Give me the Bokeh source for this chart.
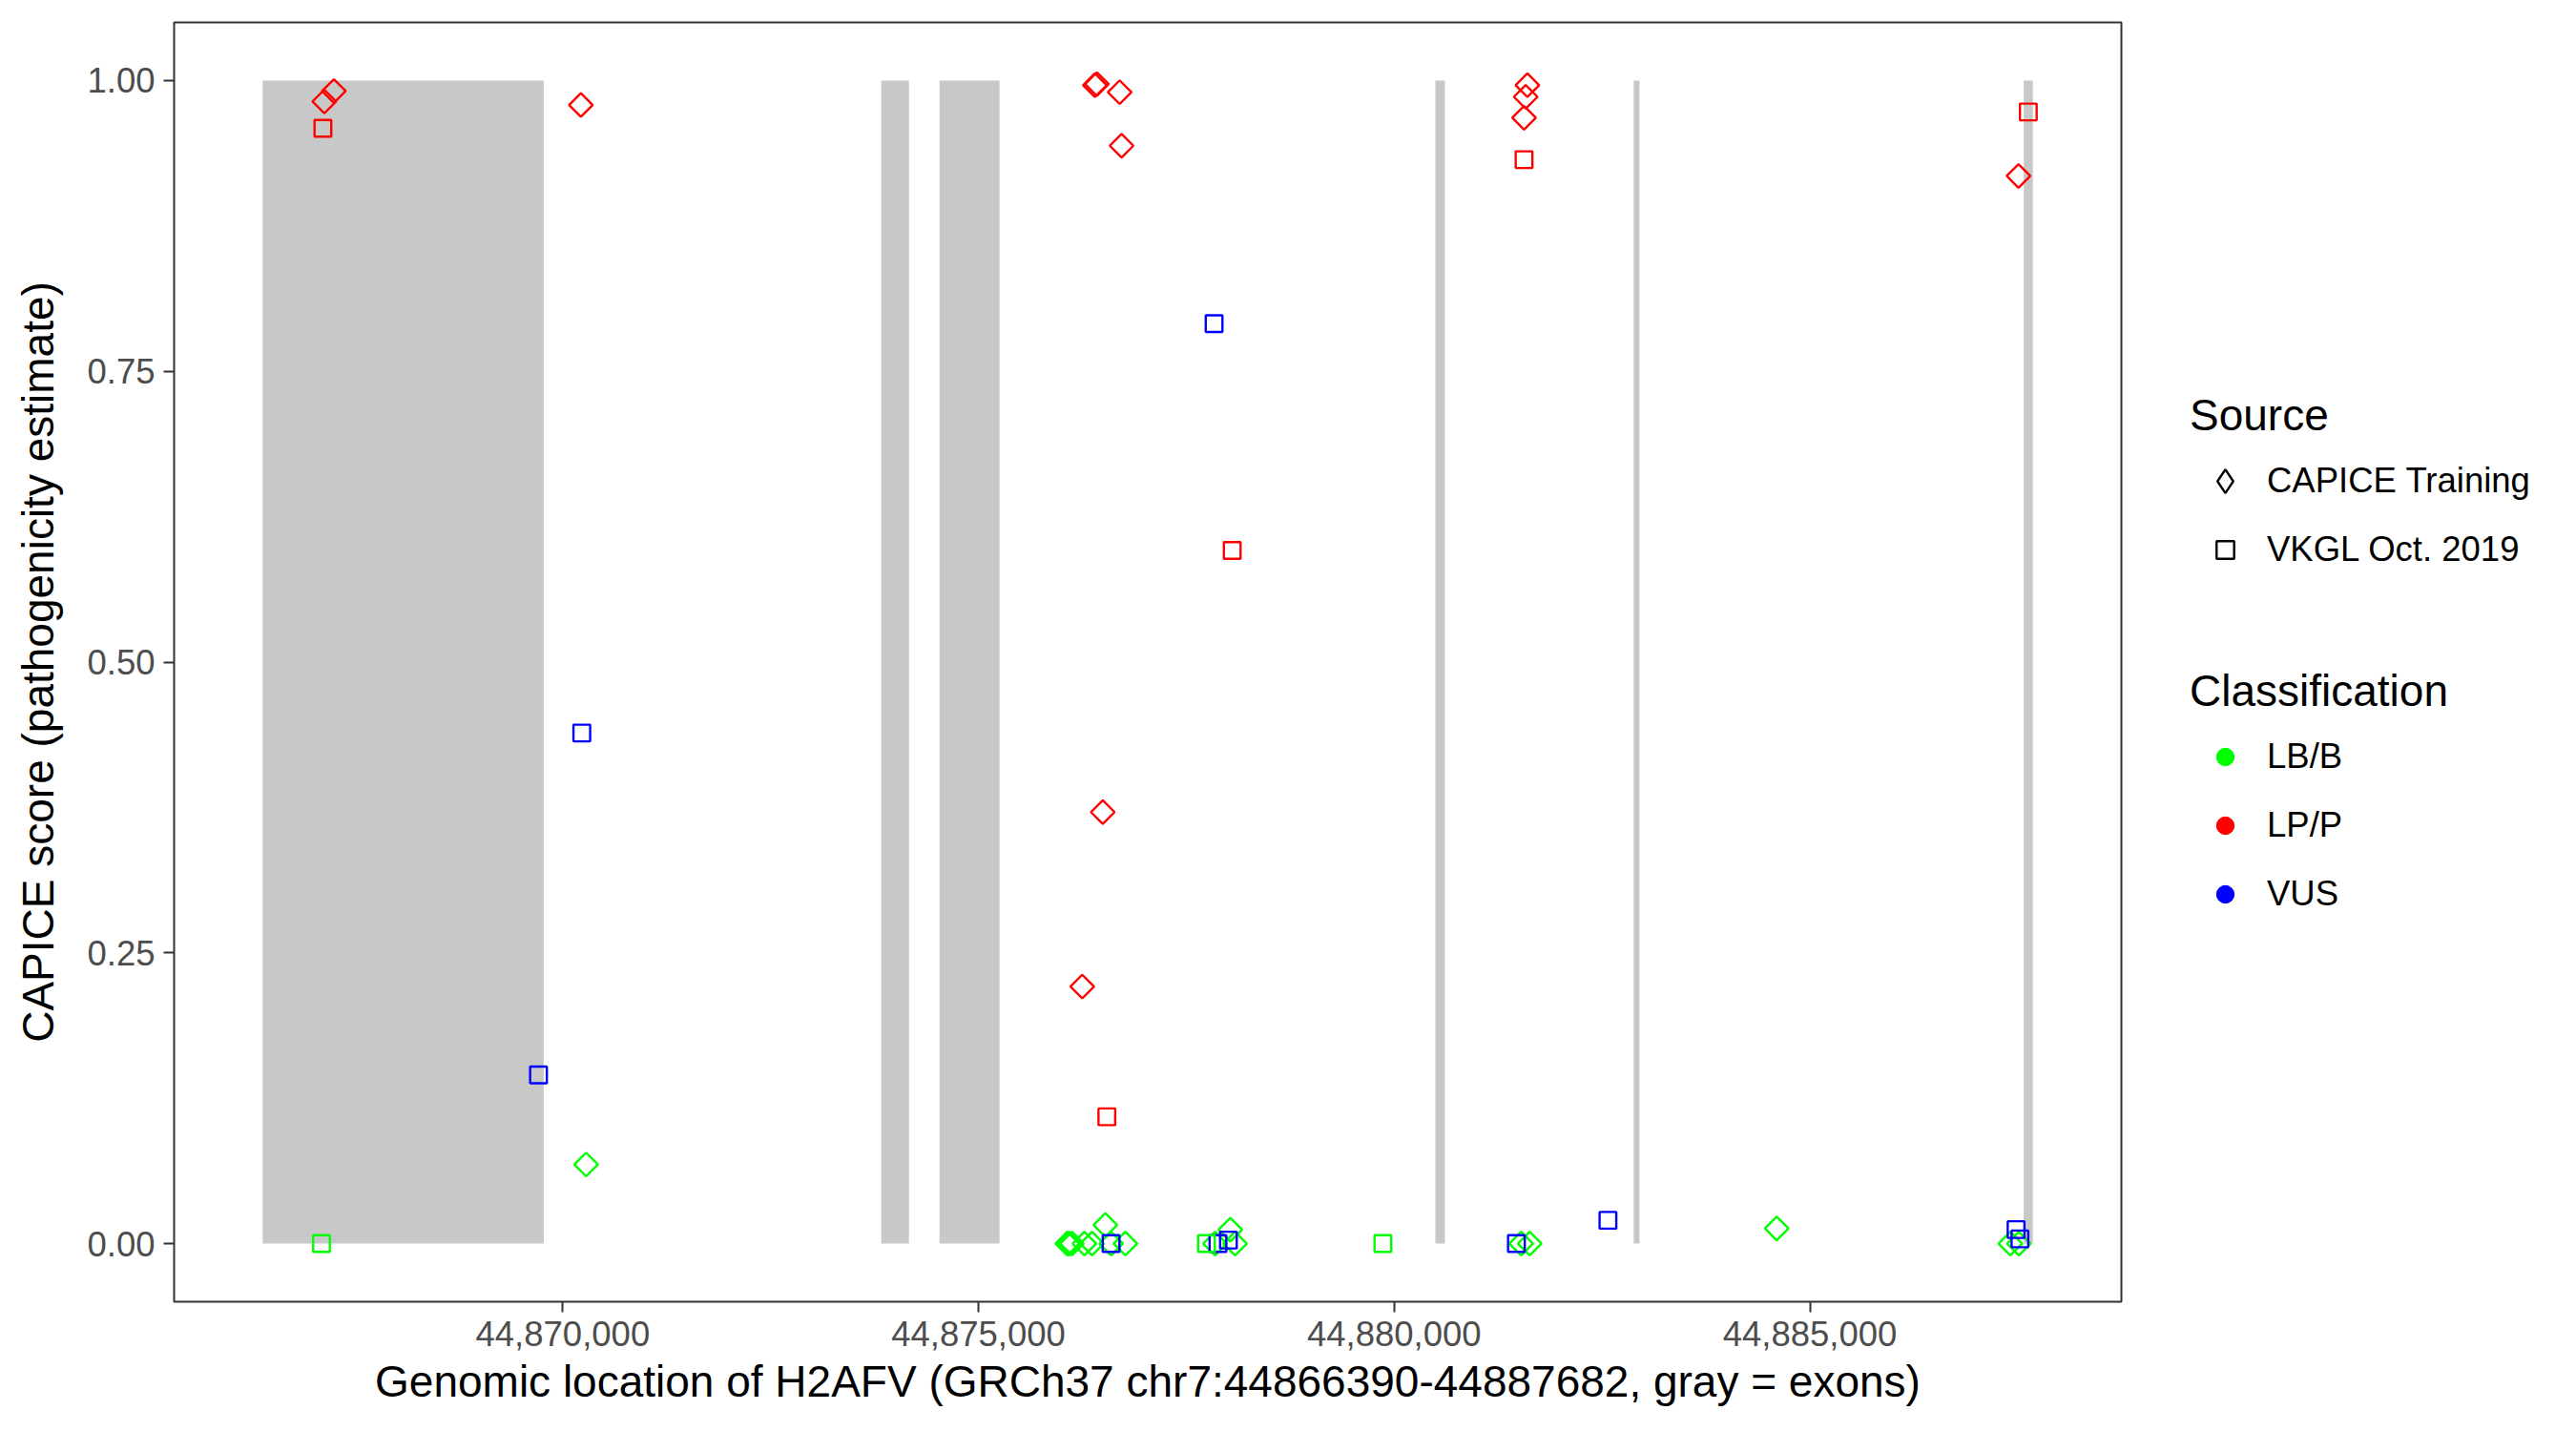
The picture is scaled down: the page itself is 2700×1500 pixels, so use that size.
import numpy as np
from bokeh.plotting import figure
from bokeh.layouts import row
from bokeh.models import (ColumnDataSource, Range1d, FixedTicker, NumeralTickFormatter,
                          Legend, LegendItem)
from bokeh.embed import file_html
from bokeh.resources import INLINE

# ---------------- data ----------------
gene_start = 44866390
gene_end = 44887682

exon_start = [44866390, 44873831, 44874531, 44880495, 44882881, 44887572]
exon_end = [44869771, 44874164, 44875253, 44880610, 44882950, 44887682]

# CAPICE Training variants (diamonds)
capice_pos = [44867132, 44867247, 44870218, 44876400, 44876425, 44876698, 44876721,
              44876495, 44876248, 44881602, 44881582, 44881562, 44887509,
              44870281, 44876068, 44876090, 44876125, 44876274, 44876366, 44876526,
              44876595, 44876767, 44877845, 44878029, 44878086, 44881527, 44881630,
              44884601, 44887411, 44887514]
capice_score = [0.982, 0.991, 0.979, 0.996, 0.997, 0.990, 0.944,
                0.371, 0.221, 0.996, 0.986, 0.968, 0.918,
                0.068, 0.0, 0.0, 0.0, 0.0, 0.0, 0.016,
                0.0, 0.0, 0.0, 0.012, 0.0, 0.0, 0.0,
                0.013, 0.0, 0.0]
capice_class = ["LP/P"] * 13 + ["LB/B"] * 17

# VKGL Oct. 2019 variants (squares)
vkgl_pos = [44867115, 44878052, 44876544, 44881562, 44887627,
            44869708, 44870229, 44877834, 44876595, 44877880, 44878006, 44881470,
            44882571, 44887480, 44887526,
            44867098, 44877742, 44879864]
vkgl_score = [0.959, 0.596, 0.109, 0.932, 0.973,
              0.145, 0.439, 0.791, 0.0, 0.0, 0.003, 0.0,
              0.020, 0.012, 0.004,
              0.0, 0.0, 0.0]
vkgl_class = ["LP/P"] * 5 + ["VUS"] * 10 + ["LB/B"] * 3

class_names = ["LB/B", "LP/P", "VUS"]
class_colors = ["#00FF00", "#FF0000", "#0000FF"]
source_names = ["CAPICE Training", "VKGL Oct. 2019"]
source_title = "Source"
class_title = "Classification"

x_ticks = [44870000, 44875000, 44880000, 44885000]
y_ticks = [0.0, 0.25, 0.5, 0.75, 1.0]
x_label = "Genomic location of H2AFV (GRCh37 chr7:44866390-44887682, gray = exons)"
y_label = "CAPICE score (pathogenicity estimate)"

# ---------------- plot ----------------
FONT = "Liberation Sans"
color_of = dict(zip(class_names, class_colors))

TOTAL_W, TOTAL_H = 2684, 1484
MAIN_W = 2243
pad = 0.05 * (gene_end - gene_start)
p = figure(width=MAIN_W, height=TOTAL_H, output_backend="svg", toolbar_location=None,
           x_range=Range1d(gene_start - pad, gene_end + pad),
           y_range=Range1d(-0.05, 1.05),
           min_border_left=182, min_border_right=20,
           min_border_top=23, min_border_bottom=120,
           background_fill_color="white", border_fill_color="white")

p.xgrid.visible = False
p.ygrid.visible = False
p.outline_line_color = "#333333"
p.outline_line_width = 2

# exons
exon_src = ColumnDataSource(dict(left=exon_start, right=exon_end,
                                 bottom=[0.0] * len(exon_start), top=[1.0] * len(exon_start)))
p.quad(left="left", right="right", bottom="bottom", top="top", source=exon_src,
       fill_color="#C8C8C8", line_color=None)

MS = 17.5
LW = 2.4

d_src = ColumnDataSource(dict(x=capice_pos, y=capice_score,
                              c=[color_of[k] for k in capice_class]))
s_src = ColumnDataSource(dict(x=vkgl_pos, y=vkgl_score,
                              c=[color_of[k] for k in vkgl_class]))
p.scatter("x", "y", source=d_src, marker="square", angle=np.pi / 4, size=MS,
          fill_color=None, line_color="c", line_width=LW)
p.scatter("x", "y", source=s_src, marker="square", size=MS,
          fill_color=None, line_color="c", line_width=LW)

# axes
for ax in (p.xaxis[0], p.yaxis[0]):
    ax.axis_line_color = None
    ax.major_tick_line_color = "#333333"
    ax.major_tick_line_width = 2
    ax.major_tick_out = 11
    ax.major_tick_in = 0
    ax.minor_tick_line_color = None
    ax.major_label_text_font = FONT
    ax.major_label_text_font_size = "36.5px"
    ax.major_label_text_color = "#4D4D4D"
    ax.major_label_standoff = 9
    ax.axis_label_text_font = FONT
    ax.axis_label_text_font_size = "46px"
    ax.axis_label_text_font_style = "normal"
    ax.axis_label_text_color = "black"

p.xaxis.ticker = FixedTicker(ticks=x_ticks)
p.xaxis.formatter = NumeralTickFormatter(format="0,0")
p.xaxis.axis_label = x_label
p.xaxis.axis_label_standoff = 8
p.yaxis.ticker = FixedTicker(ticks=y_ticks)
p.yaxis.formatter = NumeralTickFormatter(format="0.00")
p.yaxis.axis_label = y_label
p.yaxis.axis_label_standoff = 22

# ---------------- legend panel ----------------
lf = figure(width=TOTAL_W - MAIN_W, height=TOTAL_H, output_backend="svg", toolbar_location=None,
            x_range=Range1d(0, 1), y_range=Range1d(0, 1),
            min_border=0, background_fill_color="white", border_fill_color="white")
lf.axis.visible = False
lf.grid.visible = False
lf.outline_line_color = None

# key-only renderers (NaN data: nothing is drawn in the panel, only the legend keys)
nan = [float("nan")]
leg_diamond = lf.scatter(nan, nan, marker="diamond", size=MS,
                         fill_color=None, line_color="black", line_width=LW)
leg_square = lf.scatter(nan, nan, marker="square", size=MS,
                        fill_color=None, line_color="black", line_width=LW)
leg_dots = [lf.scatter(nan, nan, marker="circle", size=19, fill_color=c, line_color=c)
            for c in class_colors]


def style_legend(lg, glyph_h=46, standoff=19):
    lg.title_text_font = FONT
    lg.title_text_font_size = "46px"
    lg.title_text_font_style = "normal"
    lg.title_text_color = "black"
    lg.title_standoff = standoff
    lg.label_text_font = FONT
    lg.label_text_font_size = "36.5px"
    lg.label_text_color = "black"
    lg.glyph_width = 74
    lg.glyph_height = glyph_h
    lg.label_height = glyph_h
    lg.label_standoff = 7
    lg.spacing = 26
    lg.padding = 0
    lg.margin = 0
    lg.border_line_color = None
    lg.background_fill_alpha = 0


# "Source" guide: diamond key drawn a little larger (as the rotated-square diamond of the panel)
leg1a = Legend(items=[LegendItem(label=source_names[0], renderers=[leg_diamond], index=0)],
               title=source_title, location=(52, 829))
style_legend(leg1a, glyph_h=62, standoff=11)
leg1b = Legend(items=[LegendItem(label=source_names[1], renderers=[leg_square], index=0)],
               location=(52, 765))
style_legend(leg1b)
leg2 = Legend(items=[LegendItem(label=n, renderers=[r], index=0)
                     for n, r in zip(class_names, leg_dots)],
              title=class_title, location=(52, 404))
style_legend(leg2)
lf.add_layout(leg1a)
lf.add_layout(leg1b)
lf.add_layout(leg2)

layout = row(p, lf, spacing=0)
open("out.html", "w").write(file_html(layout, INLINE))
